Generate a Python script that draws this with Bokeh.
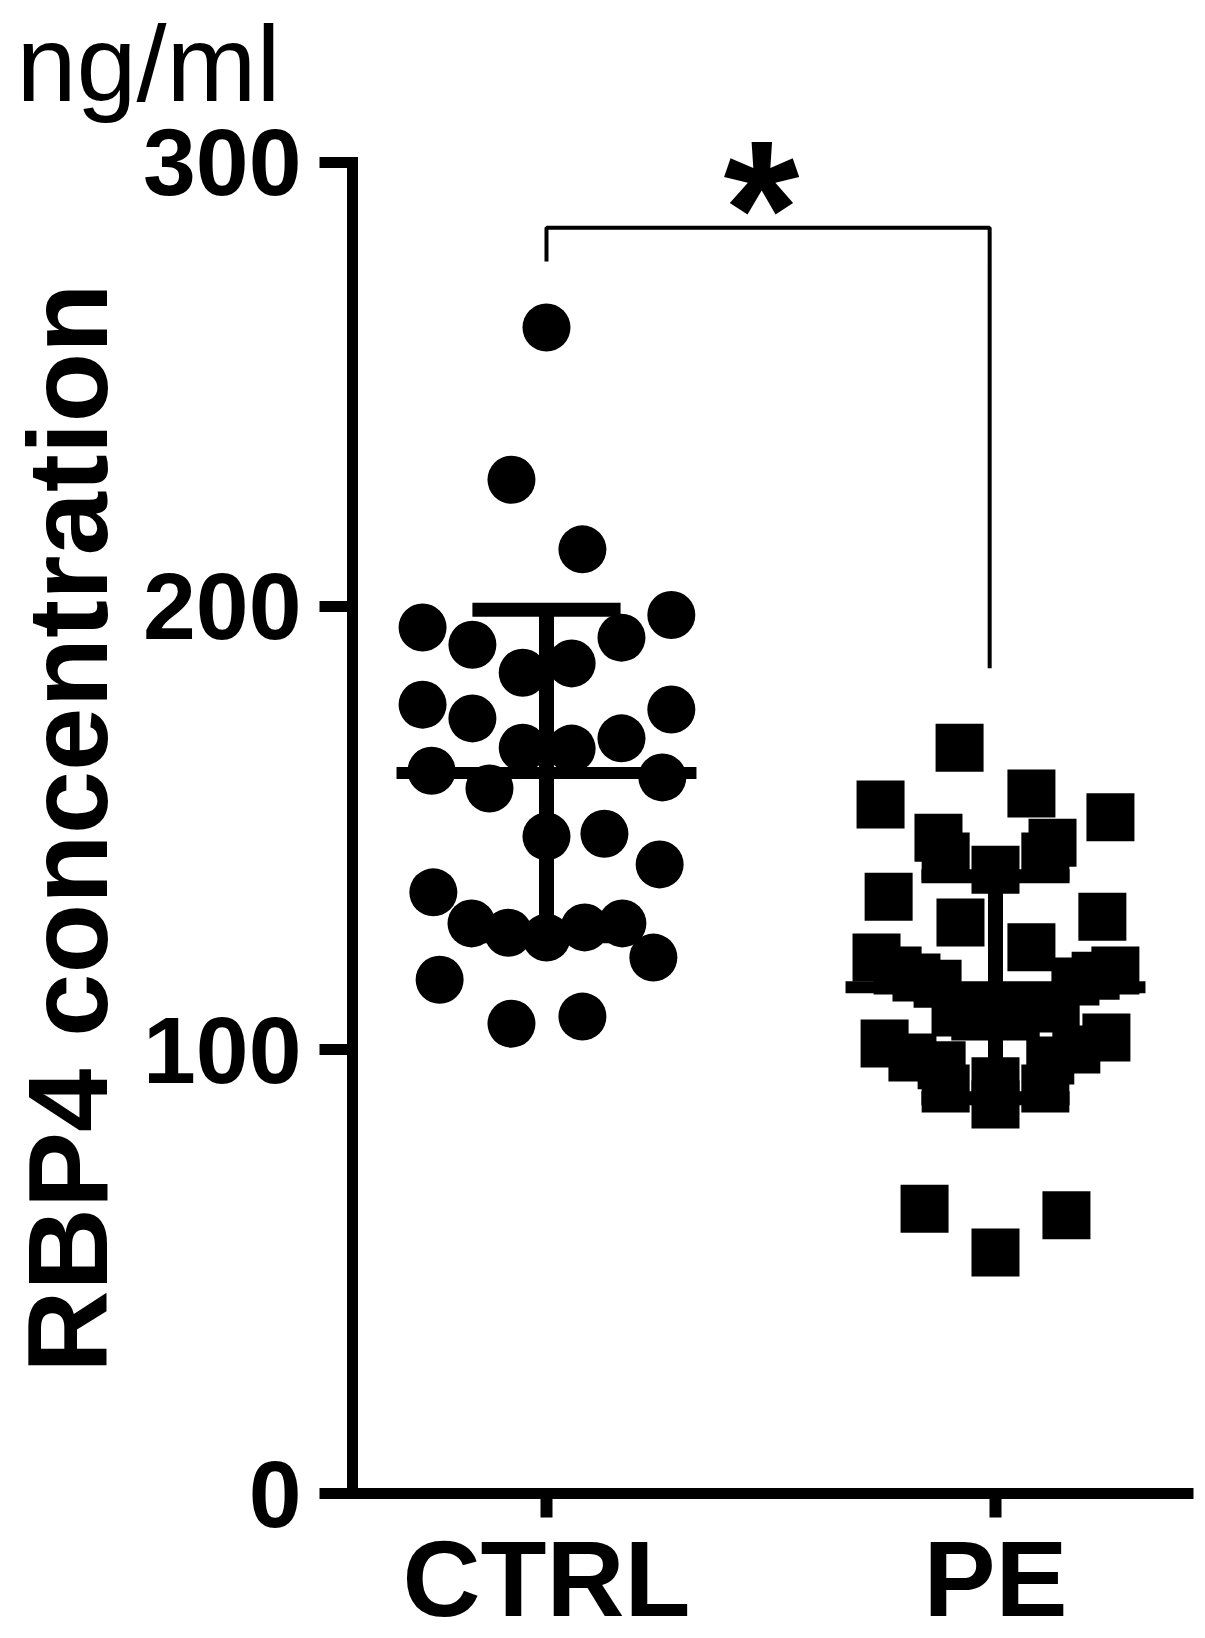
import math
from bokeh.plotting import figure
from bokeh.models import FixedTicker
from bokeh.core.properties import value
from bokeh.embed import file_html
from bokeh.resources import INLINE

# ---------------- data ----------------
categories = ["CTRL", "PE"]
category_pos = [1, 2]

ctrl_values = [262.8, 228.5, 212.8, 198.0, 195.2, 192.9, 191.3, 187.1, 185.0,
               177.8, 176.7, 174.7, 170.2, 168.1, 167.9, 162.9, 161.4, 158.9,
               148.7, 148.1, 141.8, 135.5, 128.5, 128.5, 127.6, 126.4, 125.3,
               120.8, 115.8, 107.5, 105.9]
# horizontal scatter offsets of each CTRL point (category units)
ctrl_jitter = [0.0, -0.078, 0.080, 0.278, -0.276, 0.167, -0.165, 0.056, -0.053,
               -0.276, 0.278, -0.165, 0.167, -0.053, 0.056, -0.256, 0.258, -0.127,
               0.129, 0.0, 0.252, -0.252, -0.167, 0.169, 0.085, -0.085, 0.0,
               0.238, -0.238, 0.080, -0.078]

pe_values = [168.1, 155.3, 157.8, 152.4, 147.8, 146.7, 143.6, 143.6, 140.6,
             134.5, 128.7, 130.0, 123.1, 120.8, 117.9, 116.3, 114.9, 117.9,
             116.7, 115.4, 101.4, 98.3, 96.5, 91.3, 102.8, 100.1, 97.6, 91.3,
             87.7, 92.9, 108.4, 107.5, 107.5, 109.3, 64.2, 54.3, 62.7]
pe_jitter = [-0.080, -0.256, 0.080, 0.256, -0.127, 0.127, -0.111, 0.111, 0.0,
             -0.238, -0.078, 0.238, 0.080, -0.265, -0.218, -0.176, -0.129, 0.267,
             0.223, 0.178, -0.247, -0.185, -0.120, -0.111, 0.247, 0.180, 0.122,
             0.111, 0.0, 0.0, -0.089, -0.045, 0.045, 0.134, -0.158, 0.0, 0.158]

group_mean = [162.4, 114.1]
group_sd = [36.8, 25.0]

y_ticks = [0, 100, 200, 300]
y_title = "RBP4 concentration"
unit_text = "ng/ml"
sig_text = "*"
bracket_x = [1.0, 1.0, 1.987, 1.987]
bracket_y = [277.7, 285.3, 285.3, 186.0]

# ---------------- figure (frame fills the whole canvas) ----------------
FONT = "Liberation Sans"
X_START, X_END = -0.2160, 2.4677
Y_START, Y_END = -32.68, 336.51
Y_AXIS_AT = 0.5679          # x position where the value axis is drawn
X_AXIS_END = 2.441

p = figure(width=1205, height=1638,
           x_range=(X_START, X_END), y_range=(Y_START, Y_END),
           output_backend="svg", toolbar_location=None,
           min_border_left=0, min_border_right=0,
           min_border_top=0, min_border_bottom=0)
p.outline_line_color = None
p.grid.visible = False
p.background_fill_color = "white"
p.border_fill_color = "white"

# y axis
yax = p.yaxis[0]
yax.fixed_location = Y_AXIS_AT
yax.ticker = FixedTicker(ticks=y_ticks)
yax.bounds = (min(y_ticks), max(y_ticks))
yax.axis_line_width = 11
yax.axis_line_cap = "square"
yax.axis_line_color = "black"
yax.major_tick_line_width = 11
yax.major_tick_line_color = "black"
yax.major_tick_out = 33
yax.major_tick_in = 0
yax.minor_tick_line_color = None
yax.major_label_text_font = FONT
yax.major_label_text_font_style = "bold"
yax.major_label_text_font_size = "95px"
yax.major_label_text_color = "black"
yax.major_label_standoff = 18

# x axis (drawn at y = 0)
xax = p.xaxis[0]
xax.fixed_location = 0
xax.bounds = (Y_AXIS_AT, X_AXIS_END)
xax.ticker = FixedTicker(ticks=category_pos)
xax.major_label_overrides = dict(zip(category_pos, categories))
xax.axis_line_width = 11
xax.axis_line_color = "black"
xax.major_tick_line_width = 12
xax.major_tick_line_color = "black"
xax.major_tick_out = 24
xax.major_tick_in = 0
xax.minor_tick_line_color = None
xax.major_label_text_font = FONT
xax.major_label_text_font_style = "bold"
xax.major_label_text_font_size = "108px"
xax.major_label_text_color = "black"
xax.major_label_standoff = 0

# points
p.scatter(x=[category_pos[0] + j for j in ctrl_jitter], y=ctrl_values,
          marker="circle", size=48, fill_color="black", line_color=None)
p.scatter(x=[category_pos[1] + j for j in pe_jitter], y=pe_values,
          marker="square", size=48, fill_color="black", line_color=None)

# mean and SD bars
mean_half = 0.334
cap_half = 0.165
p.segment(x0=[c - mean_half for c in category_pos], y0=group_mean,
          x1=[c + mean_half for c in category_pos], y1=group_mean,
          line_width=12, line_color="black")
p.segment(x0=category_pos, y0=[m - s for m, s in zip(group_mean, group_sd)],
          x1=category_pos, y1=[m + s for m, s in zip(group_mean, group_sd)],
          line_width=15, line_color="black")
for sign in (1, -1):
    ys = [m + sign * s for m, s in zip(group_mean, group_sd)]
    p.segment(x0=[c - cap_half for c in category_pos], y0=ys,
              x1=[c + cap_half for c in category_pos], y1=ys,
              line_width=14, line_color="black")

# significance bracket and star
p.line(bracket_x, bracket_y, line_width=4, line_color="black")
p.text(x=[1.4788], y=[289.8], text=[sig_text], text_align="center",
       text_baseline="middle", text_font=value(FONT),
       text_font_style="bold", text_font_size="195px", text_color="black")

# value-axis title (rotated)
p.text(x=[-0.0668], y=[(min(y_ticks) + max(y_ticks)) / 2], text=[y_title],
       angle=math.pi / 2, text_align="center", text_baseline="middle",
       text_font=value(FONT), text_font_style="bold",
       text_font_size="114px", text_color="black")

# unit label
p.text(x=[-0.1804], y=[322.4], text=[unit_text], text_align="left",
       text_baseline="middle", text_font=value(FONT),
       text_font_size="108px", text_color="black")

open("out.html", "w").write(file_html(p, INLINE))
